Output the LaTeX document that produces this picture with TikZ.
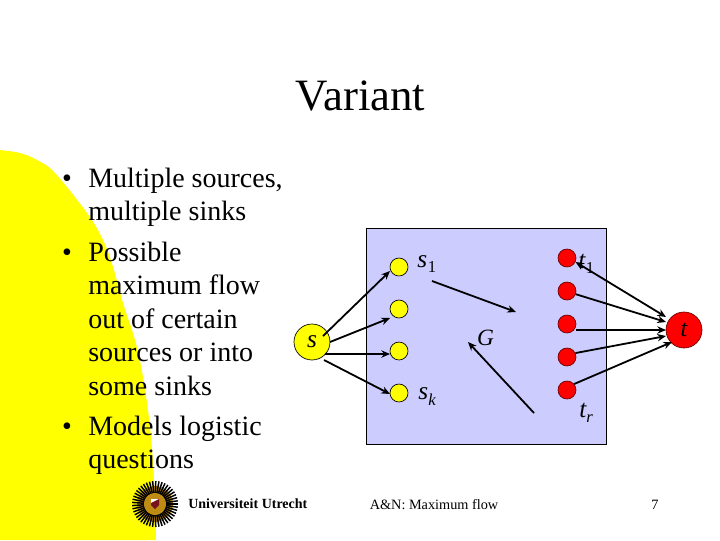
\documentclass[tikz,border=0pt]{standalone}
\usepackage{fontspec}
\setmainfont{Liberation Serif}
\usetikzlibrary{arrows.meta}
\definecolor{panelblue}{RGB}{204,204,255}
\definecolor{slideyellow}{RGB}{255,255,0}
\definecolor{sinkred}{RGB}{255,0,0}
\definecolor{sealgold}{RGB}{190,140,20}
\definecolor{sealred}{RGB}{120,20,30}
\newcommand{\subfont}{\fontsize{12.5}{12.5}\selectfont}
\tikzset{
  bodytext/.style={anchor=base west,inner sep=0pt,font=\fontsize{21}{21}\selectfont},
  bullettext/.style={anchor=base,inner sep=0pt,font=\fontsize{21}{21}\selectfont},
  mathlabel/.style={anchor=base west,inner sep=0pt,font=\fontsize{19}{19}\selectfont\itshape},
  srcsmall/.style={circle,draw=black,line width=0.5pt,fill=slideyellow,inner sep=0pt,minimum size=13.5pt},
  snksmall/.style={circle,draw=black!60!sinkred,line width=0.5pt,fill=sinkred,inner sep=0pt,minimum size=13.5pt},
  srcbig/.style={circle,draw=black,line width=0.5pt,fill=slideyellow,inner sep=0pt,minimum size=27pt,font=\fontsize{19}{19}\selectfont\itshape},
  snkbig/.style={circle,draw=black!60!sinkred,line width=0.5pt,fill=sinkred,inner sep=0pt,minimum size=27pt,font=\fontsize{18}{18}\selectfont\itshape},
  flowarrow/.style={draw=black,line width=1.35pt,-{Stealth[length=6.5pt,width=5.5pt]}},
}
\begin{document}
\begin{tikzpicture}[x=0.75pt,y=-0.75pt]
\useasboundingbox (0,0) rectangle (720,540);
\fill[white] (0,0) rectangle (720,540);
% yellow backdrop
\fill[slideyellow] plot[smooth,tension=0.6] coordinates {(0,150) (20,153) (37,160) (55,173) (87,213) (103,240) (113,267) (123,303) (135,340) (143,377) (150,427) (154,480) (156,540)} -- (0,540) -- cycle;
% panel
\node[draw=black,line width=0.6pt,fill=panelblue,inner sep=0pt,minimum width=180pt,minimum height=162pt] (panel) at (486,336) {};
% title
\node[inner sep=0pt,anchor=base,font=\fontsize{33.6}{33.6}\selectfont] (title) at (360.5,110) {Variant};
% bullets
\node[bullettext] (b1) at (67,187) {•};
\node[bullettext] (b2) at (67,261) {•};
\node[bullettext] (b3) at (67,435) {•};
\node[bodytext] (l1) at (88,187) {Multiple sources,};
\node[bodytext] (l2) at (88,220) {multiple sinks};
\node[bodytext] (l3) at (88,261) {Possible};
\node[bodytext] (l4) at (88,294) {maximum flow};
\node[bodytext] (l5) at (88,328) {out of certain};
\node[bodytext] (l6) at (88,361) {sources or into};
\node[bodytext] (l7) at (88,395) {some sinks};
\node[bodytext] (l8) at (88,435) {Models logistic};
\node[bodytext] (l9) at (88,468) {questions};
% nodes
\node[srcbig] (s) at (312,342) {s};
\node[srcsmall] (a1) at (399,267) {};
\node[srcsmall] (a2) at (399,309) {};
\node[srcsmall] (a3) at (399,351) {};
\node[srcsmall] (a4) at (399,393) {};
\node[snksmall] (c1) at (567,258) {};
\node[snksmall] (c2) at (567,291) {};
\node[snksmall] (c3) at (567,324) {};
\node[snksmall] (c4) at (567,357) {};
\node[snksmall] (c5) at (567,390) {};
\node[snkbig] (t) at (684,330) {t};
% labels
\node[mathlabel] (ls1) at (417,267) {s\kern0.6pt{\upshape\subfont\raisebox{-4pt}{1}}};
\node[mathlabel] (lsk) at (418,399) {s\kern0.2pt\raisebox{-4.5pt}{\subfont k}};
\node[mathlabel] (lt1) at (578,268) {t\kern0.4pt{\upshape\subfont\raisebox{-4pt}{1}}};
\node[mathlabel] (ltr) at (579,417) {t\kern0pt\raisebox{-4pt}{\subfont r}};
\node[inner sep=0pt,font=\fontsize{17.5}{17.5}\selectfont\itshape] (lG) at (485.5,338) {G};
% connector end points
\coordinate (g1s) at (432,281);
\coordinate (g1e) at (516,312);
\coordinate (g2s) at (534,413);
\coordinate (g2e) at (468,342);
\coordinate (p1) at (323,336);
\coordinate (p2) at (330,342);
\coordinate (p3) at (325,354);
\coordinate (p4) at (324,360);
\coordinate (e1) at (390,271);
\coordinate (e2) at (390,318);
\coordinate (e3) at (390,354);
\coordinate (e4) at (390,394);
\coordinate (q1) at (666,317);
\coordinate (q2) at (666,322);
\coordinate (q3) at (666,330);
\coordinate (q4) at (666,336);
\coordinate (q5) at (672,342);
\draw[flowarrow] (g1s) -- (g1e);
\draw[flowarrow] (g2s) -- (g2e);
\draw[flowarrow] (p1) -- (e1);
\draw[flowarrow] (p2) -- (e2);
\draw[flowarrow] (p3) -- (e3);
\draw[flowarrow] (p4) -- (e4);
\draw[flowarrow,{Stealth[length=6.5pt,width=5.5pt]}-{Stealth[length=6.5pt,width=5.5pt]}] (c1.-25) -- (q1);
\draw[flowarrow] (c2.-20) -- (q2);
\draw[flowarrow] (c3.east |- q3) -- (q3);
\draw[flowarrow] (c4.25) -- (q4);
\draw[flowarrow] (c5.40) -- (q5);
% footer
\node[inner sep=0pt,anchor=base,font=\fontsize{10.7}{10.7}\selectfont] (foot) at (434,509) {A\&N: Maximum flow};
\node[inner sep=0pt,anchor=base,font=\fontsize{10.7}{10.7}\selectfont] (pg) at (655,509) {7};
% seal
\begin{scope}[shift={(155,504)}]
\fill[sealgold] (0,0) circle (13.5pt);
\foreach \a in {0,8,...,352}{
  \draw[black,line width=1.1pt] (\a:11) -- (\a:23);
}
\draw[black,line width=0.8pt] (0,0) circle (8.6pt);
\fill[sealgold] (0,0) circle (8.3pt);
\fill[white] (-4,-5) rectangle (4,-1);
\fill[sealred] (-4,-1) -- (4,-5) -- (4,1) -- (0,5) -- (-4,1) -- cycle;
\end{scope}
\node[inner sep=0pt,anchor=base west,font=\fontsize{10.5}{10.5}\selectfont\bfseries] (uu) at (188,508) {Universiteit Utrecht};
\end{tikzpicture}
\end{document}
